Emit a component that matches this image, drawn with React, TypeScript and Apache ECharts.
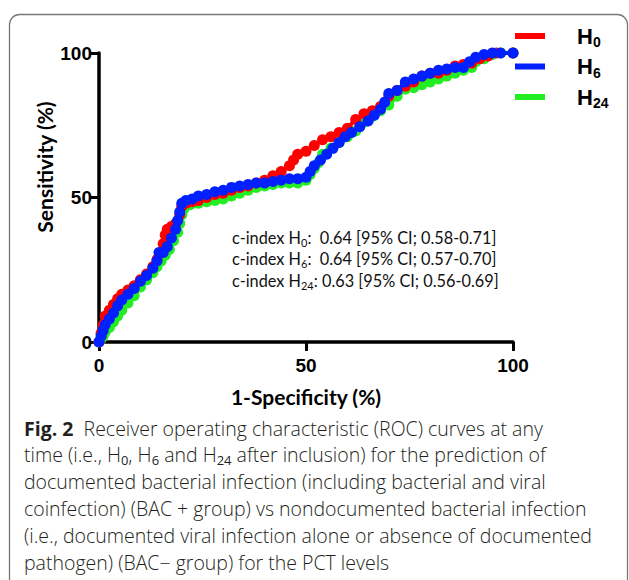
import React, { useEffect, useRef } from "react";
import * as echarts from "echarts";

const seriesNames = ["H0", "H6", "H24"];
const seriesColors = ["#ff0000", "#0020ff", "#22ee22"];

const h0Points: [number, number][] = [
  [0, 0], [0.5, 3], [1, 6], [1.5, 9], [2.5, 11], [3.5, 13], [4.5, 15], [5.5, 16.5], [7, 18], [8.5, 19.5],
  [10, 21.5], [11.5, 23.5], [13, 26], [14, 28.5], [15, 31], [15.5, 34], [16, 37], [16.5, 39], [17.5, 40],
  [18.5, 41], [19.5, 44], [20, 47], [21, 48], [22.5, 48.5], [24, 49], [26, 50], [28, 51], [30, 51.5],
  [32, 52.5], [34, 53.5], [36, 54], [38, 55], [40, 56], [42, 57.5], [44, 59], [46, 61], [47, 63], [48, 65],
  [50, 66], [52, 68], [54, 70], [56, 71], [58, 72.5], [60, 74], [62, 77], [64, 79], [66, 80], [68, 81.5],
  [70, 85], [72, 87], [74, 88.5], [76, 90], [78, 92], [80, 93], [82, 93], [84, 94], [86, 95.5], [88, 96],
  [90, 96.5], [92, 98], [94, 99], [96, 100], [100, 100],
];

const h6Points: [number, number][] = [
  [0, 0], [0.5, 2], [1, 4], [1.5, 6], [2.5, 8], [3.5, 10], [4.5, 12.5], [5.5, 14.5], [7, 16.5], [8.5, 18.5],
  [10, 21], [11.5, 23], [13, 25.5], [14, 28], [14.5, 31], [15.5, 31], [16.5, 33], [17.5, 36], [18.5, 39],
  [19, 42], [19.5, 45], [20, 48], [21, 49], [22.5, 49.5], [24, 50.5], [26, 51], [28, 52], [30, 52.5],
  [32, 53.5], [34, 54], [36, 54.5], [38, 55], [40, 55], [42, 55.5], [44, 56], [46, 56.5], [48, 56.5],
  [50, 57], [51, 59], [52, 61], [53.5, 63], [55, 65], [56.5, 67], [58, 69], [59.5, 71], [61, 72.5],
  [63, 74.5], [65, 76.5], [66.5, 78.5], [68, 80.5], [69, 83], [70, 86], [72, 87], [74, 90], [76, 91],
  [78, 92], [80, 93], [82, 94], [84, 94.5], [86, 95], [88, 95], [89.5, 97], [91, 98.5], [93, 99.5],
  [95, 100], [97, 100], [100, 100],
];

const h24Points: [number, number][] = [
  [0, 0], [0.5, 1], [1, 2], [1.5, 3.5], [2.5, 5], [3.5, 7], [4.5, 9], [5.5, 11], [7, 13.5], [8.5, 16],
  [10, 19], [11.5, 21.5], [13, 24], [14, 26], [15, 28], [16, 30], [17, 32], [18, 35], [19, 38], [19.5, 41],
  [20, 44], [20.5, 46], [22, 47.5], [24, 48], [26, 48.5], [28, 49], [30, 49.5], [32, 50.5], [34, 51.5],
  [36, 52.5], [38, 53.5], [40, 54], [42, 54.5], [44, 55], [46, 55], [48, 55], [50, 56], [51, 58], [52, 60],
  [53, 62], [54, 65], [56, 67], [58, 69], [60, 71], [62, 73], [64, 76], [66, 78], [68, 80], [70, 82],
  [72, 85], [74, 87.5], [76, 88], [78, 89], [80, 90], [82, 91], [84, 92], [86, 93], [88, 94], [90, 95],
  [91, 97], [93, 98], [95, 99.5], [97, 100], [100, 100],
];

const xTicks = [0, 50, 100];
const yTicks = [0, 50, 100];

const xAxisTitle = "1-Specificity (%)";
const yAxisTitle = "Sensitivity (%)";

const annotationLines = [
  ["c-index H", "0", ":  0.64 [95% CI; 0.58-0.71]"],
  ["c-index H", "6", ":  0.64 [95% CI; 0.57-0.70]"],
  ["c-index H", "24", ": 0.63 [95% CI; 0.56-0.69]"],
];

// caption segments: [style, text]
const captionLines: [string, string][][] = [
  [["f", "Fig. 2"], ["c", "  Receiver operating characteristic (ROC) curves at any"]],
  [["c", "time (i.e., H"], ["s", "0"], ["c", ", H"], ["s", "6"], ["c", " and H"], ["s", "24"], ["c", " after inclusion) for the prediction of"]],
  [["c", "documented bacterial infection (including bacterial and viral"]],
  [["c", "coinfection) (BAC + group) vs nondocumented bacterial infection"]],
  [["c", "(i.e., documented viral infection alone or absence of documented"]],
  [["c", "pathogen) (BAC− group) for the PCT levels"]],
];

const esc = (t: string) => t.replace(/[{}|]/g, "");

export default function App() {
  const ref = useRef<HTMLDivElement>(null);
  useEffect(() => {
    if (!ref.current) return;
    const chart = echarts.init(ref.current, null, { renderer: "svg" });
    const data = [h0Points, h6Points, h24Points];
    const order = [2, 0, 1];
    const series = order.map((i) => ({
      name: seriesNames[i],
      type: "line" as const,
      data: data[i],
      symbol: "circle",
      symbolSize: 11,
      showSymbol: true,
      z: 2 + order.indexOf(i),
      lineStyle: { color: seriesColors[i], width: 4 },
      itemStyle: { color: seriesColors[i], borderWidth: 0 },
      emphasis: { disabled: true },
    }));

    const captionFont = "'Open Sans', 'Noto Sans', sans-serif";
    const captionGraphics = captionLines.map((segs, li) => ({
      type: "text" as const,
      left: 24,
      top: 418 + li * 26.8,
      style: {
        text: segs.map(([s, t]) => `{${s}|${esc(t)}}`).join(""),
        rich: {
          f: { fontFamily: captionFont, fontSize: 19.5, fontWeight: "bold", fill: "#231f20", lineHeight: 24 },
          c: { fontFamily: captionFont, fontSize: 19.5, fontWeight: 300, fill: "#231f20", lineHeight: 24 },
          s: { fontFamily: captionFont, fontSize: 13, fill: "#231f20", lineHeight: 13, verticalAlign: "bottom" },
        },
      },
    }));

    const annFont = "Lato, 'Open Sans', sans-serif";
    const annGraphics = annotationLines.map((parts, li) => ({
      type: "text" as const,
      left: 232,
      top: 229 + li * 21.5,
      style: {
        text: `{a|${parts[0]}}{s|${parts[1]}}{a|${parts[2]}}`,
        rich: {
          a: { fontFamily: annFont, fontSize: 16.3, fill: "#111", lineHeight: 21 },
          s: { fontFamily: annFont, fontSize: 11, fill: "#111", lineHeight: 11, verticalAlign: "bottom" },
        },
      },
    }));

    chart.setOption({
      animation: false,
      backgroundColor: "#ffffff",
      grid: { left: 99, right: 116, top: 53, bottom: 238, containLabel: false },
      xAxis: {
        type: "value",
        min: 0,
        max: 100,
        interval: 50,
        axisLine: { show: true, lineStyle: { color: "#000", width: 3.5 } },
        axisTick: { show: true, length: 9, lineStyle: { color: "#000", width: 3 } },
        axisLabel: {
          margin: 14,
          fontFamily: "'Liberation Sans', Arial, sans-serif",
          fontWeight: "bold",
          fontSize: 19,
          color: "#000",
          formatter: (v: number) => (xTicks.includes(v) ? String(v) : ""),
        },
        splitLine: { show: false },
      },
      yAxis: {
        type: "value",
        min: 0,
        max: 100,
        interval: 50,
        axisLine: { show: true, lineStyle: { color: "#000", width: 3.5 } },
        axisTick: { show: true, length: 8, lineStyle: { color: "#000", width: 3 } },
        axisLabel: {
          margin: 7,
          fontFamily: "'Liberation Sans', Arial, sans-serif",
          fontWeight: "bold",
          fontSize: 19,
          color: "#000",
          formatter: (v: number) => (yTicks.includes(v) ? String(v) : ""),
        },
        splitLine: { show: false },
      },
      legend: {
        orient: "vertical",
        left: 515,
        top: 25,
        padding: 0,
        icon: "rect",
        itemWidth: 30,
        itemHeight: 6,
        itemGap: 6.5,
        data: seriesNames,
        selectedMode: false,
        formatter: (name: string) => `{b|H}{s|${name.slice(1)}}`,
        textStyle: {
          rich: {
            b: { fontFamily: "'Liberation Sans', Arial, sans-serif", fontWeight: "bold", fontSize: 22, color: "#000", padding: [0, 0, 0, 27], lineHeight: 26 },
            s: { fontFamily: "'Liberation Sans', Arial, sans-serif", fontWeight: "bold", fontSize: 14, color: "#000", lineHeight: 14, verticalAlign: "bottom" },
          },
        },
      },
      graphic: [
        {
          type: "rect",
          shape: { x: 9.5, y: 14.5, width: 618, height: 580, r: 10 },
          style: { fill: "none", stroke: "#777", lineWidth: 1.3 },
          silent: true,
          z: -10,
        },
        {
          type: "text",
          x: 44,
          y: 167,
          rotation: Math.PI / 2,
          style: {
            text: yAxisTitle,
            align: "center",
            verticalAlign: "middle",
            fontFamily: "Lato, 'Open Sans', sans-serif",
            fontWeight: "bold",
            fontSize: 21,
            fill: "#000",
          },
        },
        {
          type: "text",
          x: 306,
          y: 396,
          style: {
            text: xAxisTitle,
            align: "center",
            verticalAlign: "middle",
            fontFamily: "Lato, 'Open Sans', sans-serif",
            fontWeight: "bold",
            fontSize: 21,
            fill: "#000",
          },
        },
        ...annGraphics,
        ...captionGraphics,
      ],
      series,
    });
    return () => chart.dispose();
  }, []);
  return <div ref={ref} style={{ position: "fixed", left: 0, top: 0, width: 629, height: 580 }} />;
}
